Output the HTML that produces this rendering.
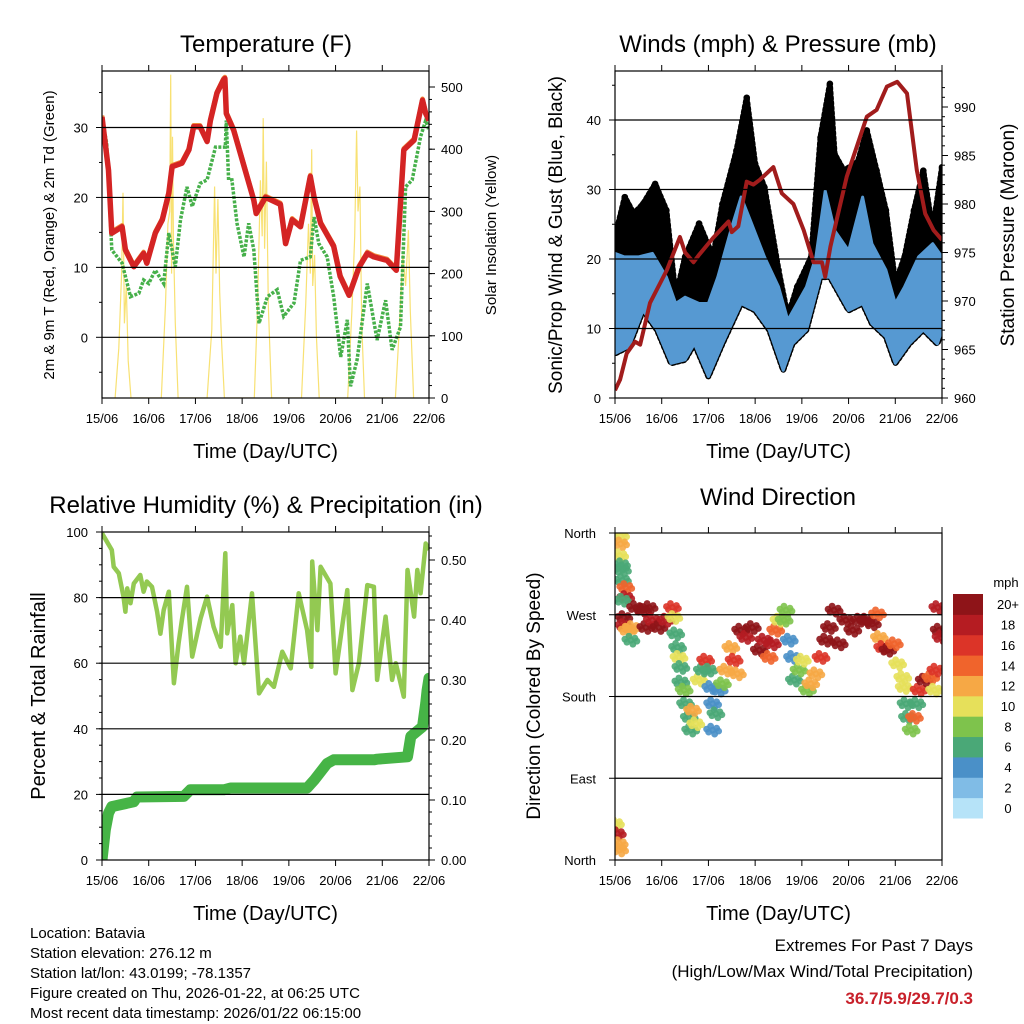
<!DOCTYPE html>
<html><head><meta charset="utf-8"><style>
html,body{margin:0;padding:0;background:#fff;}
svg{display:block;font-family:"Liberation Sans",Arial,sans-serif;}
</style></head><body>
<svg id="chart" width="1024" height="1024" viewBox="0 0 1024 1024" xmlns="http://www.w3.org/2000/svg">
<rect width="1024" height="1024" fill="#fff"/>
<text x="266" y="52" font-size="24" text-anchor="middle">Temperature (F)</text>
<text x="778" y="52" font-size="24" text-anchor="middle">Winds (mph) &amp; Pressure (mb)</text>
<text x="266" y="513" font-size="24" text-anchor="middle">Relative Humidity (%) &amp; Precipitation (in)</text>
<text x="778" y="505" font-size="24" text-anchor="middle">Wind Direction</text>
<text transform="translate(54,235) rotate(-90)" font-size="15" text-anchor="middle">2m &amp; 9m T (Red, Orange) &amp; 2m Td (Green)</text>
<text transform="translate(496,235) rotate(-90)" font-size="15" text-anchor="middle">Solar Insolation (Yellow)</text>
<text transform="translate(562,235) rotate(-90)" font-size="19" text-anchor="middle">Sonic/Prop Wind &amp; Gust (Blue, Black)</text>
<text transform="translate(1014,235) rotate(-90)" font-size="19" text-anchor="middle">Station Pressure (Maroon)</text>
<text transform="translate(45,696) rotate(-90)" font-size="20" text-anchor="middle">Percent &amp; Total Rainfall</text>
<text transform="translate(540,696) rotate(-90)" font-size="19" text-anchor="middle">Direction (Colored By Speed)</text>
<g font-size="15">
<text x="30" y="938">Location: Batavia</text>
<text x="30" y="958">Station elevation: 276.12 m</text>
<text x="30" y="978">Station lat/lon: 43.0199; -78.1357</text>
<text x="30" y="998">Figure created on Thu, 2026-01-22, at 06:25 UTC</text>
<text x="30" y="1018">Most recent data timestamp: 2026/01/22 06:15:00</text>
</g>
<text x="973" y="951" font-size="17" text-anchor="end">Extremes For Past 7 Days</text>
<text x="973" y="977" font-size="17" text-anchor="end">(High/Low/Max Wind/Total Precipitation)</text>
<text x="973" y="1004" font-size="17" font-weight="bold" fill="#c8202a" text-anchor="end">36.7/5.9/29.7/0.3</text>
</svg>
<script>
// ---------- data ----------
const dayLabels = ["15/06","16/06","17/06","18/06","19/06","20/06","21/06","22/06"];
const tempT = [0,0.14,0.21,0.43,0.5,0.68,0.89,0.96,1.14,1.29,1.43,1.5,1.71,1.86,1.96,2.1,2.25,2.32,2.46,2.6,2.63,2.66,2.82,3.25,3.3,3.5,3.82,3.93,4.07,4.25,4.46,4.54,4.68,4.96,5.1,5.29,5.5,5.68,5.82,6.1,6.3,6.46,6.68,6.86,6.93,7];
const tempV = [31.5,23.9,14.9,15.8,12.5,10.1,12,10.6,14.9,16.8,20.6,24.4,24.9,26.8,30.1,30.1,28,31,34.9,36.8,37,32,29.6,19.6,17.7,20,19,13.4,16.8,15.8,23,20,16.3,13,8.7,6,10,12,11.5,11,9.6,26.8,28.2,33.9,32,31];
const dewT = [0,0.1,0.21,0.43,0.61,0.79,0.89,1,1.14,1.32,1.43,1.57,1.68,1.82,1.93,2.1,2.25,2.43,2.64,2.66,2.71,2.78,2.89,3.04,3.14,3.25,3.36,3.54,3.75,3.89,4.11,4.25,4.46,4.54,4.64,4.82,4.96,5.11,5.25,5.32,5.46,5.68,5.89,6.07,6.21,6.39,6.5,6.64,6.82,6.93,7];
const dewV = [31.5,27.7,12.5,10.6,5.8,6.3,8.2,7.7,9.6,7.7,14.9,10.1,16.8,21.5,18.7,22,22.5,27.2,27.2,31,22.5,22.5,16.3,11.5,16.3,12.5,2,5.8,6.8,3,4.9,11,11.5,17.2,13.4,11.5,5.8,-2.8,2.5,-7,-3.2,7.7,-0.4,5.3,-1.8,1.5,21.5,22.5,28.7,31,29.6];
const solarT = [0.28,0.36,0.42,0.45,0.48,0.52,0.56,0.62, 1.27,1.36,1.41,1.45,1.47,1.49,1.51,1.53,1.57,1.63, 2.25,2.35,2.41,2.44,2.48,2.52,2.56,2.62, 3.26,3.33,3.39,3.43,3.45,3.48,3.52,3.56,3.63, 4.27,4.36,4.42,4.46,4.49,4.51,4.55,4.59,4.65, 5.26,5.35,5.41,5.45,5.48,5.52,5.56,5.62, 6.28,6.37,6.44,6.5,6.56,6.6,6.67];
const solarV = [0,80,200,330,120,180,60,0, 0,150,280,300,520,200,420,250,120,0, 0,110,340,200,320,170,90,0, 0,150,350,260,450,240,380,150,0, 0,150,280,200,400,180,230,100,0, 0,140,260,430,300,340,120,0, 0,120,230,180,270,140,0];
const windHiT = [0,0.2,0.5,0.8,1.1,1.3,1.5,1.8,2.0,2.2,2.5,2.7,2.9,3.2,3.5,3.7,3.9,4.1,4.3,4.5,4.7,5.0,5.3,5.5,5.8,6.0,6.2,6.5,6.8,7];
const windHiV = [20.8,20.3,20.3,20.8,17.4,13.6,14.5,13.6,13.6,17.4,24.6,28.9,25.5,20.3,16,11.2,13.6,16,20.3,29.8,24.1,21.2,28.9,22.2,18.4,13.6,16,20.3,22.2,20.3];
const windLoT = [0,0.3,0.6,0.9,1.2,1.5,1.7,2.0,2.3,2.7,3.0,3.3,3.6,3.8,4.1,4.4,4.6,5.0,5.3,5.5,5.8,6.0,6.3,6.6,6.9,7];
const windLoV = [6.4,7.4,12.6,9.8,5,5.5,7.8,3.1,7.8,13.6,12.6,9.8,4,7.8,9.8,17.4,17.4,12.6,13.6,10.7,8.8,5,7.8,9.8,7.8,9.8];
const gustT = [0,0.21,0.4,0.6,0.86,1.1,1.3,1.5,1.8,2.1,2.3,2.6,2.82,3.0,3.2,3.5,3.7,3.9,4.2,4.4,4.6,4.7,4.9,5.2,5.39,5.6,5.8,6.0,6.2,6.4,6.6,6.8,7];
const gustV = [23.1,28.9,26.5,27.9,30.8,27,14.5,20.3,25.1,20.3,27.9,35.6,43.2,33.7,30.3,18.4,11.7,16,20.3,37.5,45.2,35.1,32.7,34,38.5,32.7,27,16.5,20.3,27,32.7,24.1,33.2];
const presT = [0,0.11,0.25,0.43,0.54,0.75,1.11,1.39,1.5,1.68,1.79,2.1,2.43,2.5,2.64,2.82,2.96,3.1,3.39,3.57,3.82,4.04,4.25,4.43,4.5,4.61,4.96,5.39,5.6,5.82,6.04,6.25,6.46,6.64,6.82,7];
const presV = [960.8,961.9,964.6,965.8,965.5,969.8,973.2,976.6,975,974,974.7,976.5,978.2,977.1,977.7,982.3,982,982.5,983.8,981.1,980,977.3,974,974,972.5,975.6,982.8,989,989.7,992.1,992.6,991.4,983.5,979,977.3,976.3];
const rhT = [0,0.21,0.25,0.36,0.46,0.5,0.54,0.61,0.68,0.82,0.89,0.96,1.07,1.18,1.25,1.32,1.43,1.54,1.64,1.71,1.82,1.93,2.11,2.25,2.39,2.54,2.64,2.68,2.79,2.86,2.96,3.04,3.21,3.36,3.54,3.68,3.86,4.04,4.21,4.39,4.48,4.5,4.61,4.68,4.89,5,5.25,5.36,5.5,5.68,5.82,5.89,6.07,6.21,6.29,6.46,6.54,6.68,6.75,6.82,6.93,7];
const rhV = [99.6,94.5,89.4,87.4,80.3,75.7,82.8,78.3,84.3,86.9,81.8,84.9,83.3,75.7,69,76.2,81.8,53.9,66.1,73.2,83.3,62,73.7,80.3,71.1,65,93.5,69.1,77.7,60,68.1,60,81.3,50.8,54.9,52.8,63.5,58.4,81.3,70.1,58.9,91,70.1,89.4,84.3,56.9,82.3,51.8,60,83.8,83.3,54.9,74.2,54.9,60,49.8,88.4,74.2,88.4,81.3,96.5,94.5];
const rainT = [0,0.07,0.14,0.21,0.68,0.75,1.75,1.89,2.61,2.75,4.39,4.54,4.82,4.96,5.82,5.89,6.54,6.61,6.86,6.93,6.96,7];
const rainV = [0,0.05,0.078,0.089,0.097,0.105,0.106,0.117,0.117,0.12,0.12,0.133,0.161,0.167,0.167,0.168,0.172,0.206,0.222,0.261,0.283,0.303];
const dirT = [0.12,0.12,0.10,0.14,0.16,0.16,0.23,0.23,0.16,0.19,0.19,0.26,0.34,0.37,0.44,0.59,0.73,0.66,0.8,0.94,1.09,1.23,1.26,1.3,1.34,1.37,1.41,1.41,1.48,1.51,1.59,1.62,1.66,1.73,1.8,1.87,1.94,2.01,2.05,2.09,2.09,2.16,2.23,2.3,2.37,2.48,2.55,2.62,2.69,2.8,2.94,3.09,3.19,3.3,3.37,3.44,3.51,3.62,3.66,3.73,3.8,3.84,3.94,4.01,4.12,4.19,4.3,4.41,4.51,4.59,4.69,4.8,4.94,5.09,5.23,5.37,5.51,5.62,5.66,5.73,5.84,5.98,6.05,6.16,6.19,6.23,6.26,6.34,6.41,6.46,6.51,6.62,6.76,6.84,6.87,6.94,6.91,6.98,0.01,0.05,0.09,0.10];
const dirV = [357,348,335,325,319,308,300,289,286,267,258,253,242,256,278,275,278,256,264,256,264,278,267,249,234,223,212,196,187,172,157,143,165,150,198,209,220,209,190,172,143,161,187,194,209,234,220,205,253,245,256,231,242,223,238,253,264,264,275,242,223,198,209,220,187,194,205,223,242,256,275,238,264,253,264,264,260,271,245,234,231,238,216,201,190,172,157,143,157,172,187,198,201,187,209,253,278,245,40,29,18,11];
const dirSpd = [10,12,10,7,7,7,14,18,6,20,18,12,7,12,20,20,20,20,18,20,18,16,10,7,7,10,6,6,9,7,7,6,12,10,10,7,17,6,4,5,4,6,4,9,12,13,16,12,20,18,20,20,18,14,18,14,10,8,8,5,5,7,8,10,8,12,13,17,20,20,20,20,20,20,20,20,20,14,12,17,20,14,10,10,10,7,7,8,14,7,16,20,14,10,16,20,18,18,10,18,12,12];
const speedLevels = ["0","2","4","6","8","10","12","14","16","18","20+"];
// ---------- helpers ----------
const NS = "http://www.w3.org/2000/svg";
const svg = document.getElementById("chart");
function mk(tag, attrs, parent){const e=document.createElementNS(NS,tag);for(const k in attrs)e.setAttribute(k,attrs[k]);(parent||svg).appendChild(e);return e;}
function scale(d0,d1,r0,r1){return v=>r0+(v-d0)/(d1-d0)*(r1-r0);}
const speedColors = ["#b6e3f8","#80bce6","#4a90c8","#4aa877","#7ec34c","#e6e05a","#f6a845","#f0642c","#dc3428","#b51c22","#8e1418"];
function spdColor(s){let i=Math.min(10,Math.floor(s/2));return speedColors[i];}
function pathOf(ts,vs,xf,yf){return ts.map((t,i)=>(i?"L":"M")+xf(t).toFixed(1)+","+yf(vs[i]).toFixed(1)).join("");}

function frame(p, name, gridVals, yf, leftTicks, leftMinor, leftFmt, rightTicks, rightMinor, rightFmt, yr){
  const g=mk("g",{});
  
  
  gridVals.forEach(v=>{const l=mk("line",{x1:p.x0,x2:p.x1,y1:yf(v),y2:yf(v),stroke:"#000","stroke-width":1.2},g);
    
    });
  const xf=scale(0,7,p.x0,p.x1);
  for(let d=0;d<=7;d++){const x=xf(d);
    mk("line",{x1:x,x2:x,y1:p.y1,y2:p.y1+6,stroke:"#000"},g);
    mk("line",{x1:x,x2:x,y1:p.y0,y2:p.y0-6,stroke:"#000"},g);
    const t=mk("text",{x:x,y:p.y1+25,"font-size":13,"text-anchor":"middle"},g);t.textContent=dayLabels[d];
    
    
  }
  leftMinor.forEach(v=>mk("line",{x1:p.x0-3,x2:p.x0,y1:yf(v),y2:yf(v),stroke:"#000"},g));
  leftTicks.forEach(v=>{mk("line",{x1:p.x0-6,x2:p.x0,y1:yf(v),y2:yf(v),stroke:"#000"},g);
    const t=mk("text",{x:p.x0-14,y:yf(v)+5,"font-size":13,"text-anchor":"end"},g);t.textContent=leftFmt(v);
    
    });
  if(yr){
    rightMinor.forEach(v=>mk("line",{x1:p.x1,x2:p.x1+3,y1:yr(v),y2:yr(v),stroke:"#000"},g));
    rightTicks.forEach(v=>{mk("line",{x1:p.x1,x2:p.x1+6,y1:yr(v),y2:yr(v),stroke:"#000"},g);
      const t=mk("text",{x:p.x1+12,y:yr(v)+5,"font-size":13},g);t.textContent=rightFmt(v);
      
      });
  }
  const b=mk("rect",{x:p.x0,y:p.y0,width:p.x1-p.x0,height:p.y1-p.y0,fill:"none",stroke:"#000","stroke-width":1.2},g);
  
  
  const xt=mk("text",{x:(p.x0+p.x1)/2,y:p.y1+60,"font-size":20,"text-anchor":"middle"},g);
  xt.textContent="Time (Day/UTC)";
  
  
  return xf;
}
function clip(id,p){const d=mk("defs",{});const c=mk("clipPath",{id:id},d);mk("rect",{x:p.x0,y:p.y0,width:p.x1-p.x0,height:p.y1-p.y0},c);}
function range(a,b,s){const r=[];for(let v=a;v<=b+1e-9;v+=s)r.push(+v.toFixed(4));return r;}

// ---------- Panel 1: temperature ----------
{
const p={x0:102,x1:429,y0:71,y1:398};
const yf=scale(0,30,337.3,127.5), yr=scale(0,500,398,87);
clip("c1",p);
const g=mk("g",{"clip-path":"url(#c1)"});


const xf=scale(0,7,p.x0,p.x1);
const sol=mk("path",{d:pathOf(solarT,solarV,xf,yr),fill:"none",stroke:"#f7dc5a","stroke-width":1.2,opacity:0.85},g);


const dew=mk("path",{d:pathOf(dewT,dewV,xf,yf),fill:"none",stroke:"#46b04a","stroke-width":3.5,"stroke-dasharray":"3 1.5"},g);


const t9=mk("path",{d:pathOf(tempT,tempV,xf,v=>yf(v)-1.5),fill:"none",stroke:"#f08a3a","stroke-width":4.5,"stroke-linejoin":"round"},g);


const t2=mk("path",{d:pathOf(tempT,tempV,xf,yf),fill:"none",stroke:"#d42424","stroke-width":5.5,"stroke-linejoin":"round"},g);


frame(p,"temperature",[0,10,20,30],yf,[0,10,20,30],[-5,5,15,25,35],v=>v,[0,100,200,300,400,500],range(20,500,20),v=>v,yr);
}
// ---------- Panel 2: winds ----------
{
const p={x0:615,x1:942,y0:71,y1:398};
const yf=scale(0,40,398,120), yr=scale(960,990,398,107);
clip("c2",p);
const g=mk("g",{"clip-path":"url(#c2)"});


const xf=scale(0,7,p.x0,p.x1);
const lowRev=windLoT.map((t,i)=>"L"+xf(t).toFixed(1)+","+yf(windLoV[i]).toFixed(1)).reverse().join("");
const gust=mk("path",{d:pathOf(gustT,gustV,xf,yf)+lowRev+"Z",fill:"#000",stroke:"#000","stroke-width":6,"stroke-linejoin":"round","stroke-dasharray":"2 3","stroke-linecap":"round"},g);


gustT.forEach((t,i)=>{const c=mk("circle",{cx:xf(t),cy:yf(gustV[i]),r:3.3,fill:"#000"},g);
  
  });
const wind=mk("path",{d:pathOf(windHiT,windHiV,xf,yf)+lowRev+"Z",fill:"#5699d2",stroke:"#5699d2","stroke-width":3,"stroke-linejoin":"round"},g);


const pr=mk("path",{d:pathOf(presT,presV,xf,yr),fill:"none",stroke:"#a11c1c","stroke-width":4,"stroke-linejoin":"round"},g);


frame(p,"winds",[10,20,30,40],yf,[0,10,20,30,40],[5,15,25,35,45],v=>v,[960,965,970,975,980,985,990],range(961,992,1),v=>v,yr);
}
// ---------- Panel 3: humidity ----------
{
const p={x0:102,x1:429,y0:532,y1:860};
const yf=scale(0,100,860,532), yr=scale(0,0.5,860,560);
clip("c3",p);
const g=mk("g",{"clip-path":"url(#c3)"});


const xf=scale(0,7,p.x0,p.x1);
const rain=mk("path",{d:pathOf(rainT,rainV,xf,yr),fill:"none",stroke:"#46b446","stroke-width":11,"stroke-linejoin":"round","stroke-linecap":"round"},g);


const rh=mk("path",{d:pathOf(rhT,rhV,xf,yf),fill:"none",stroke:"#93c952","stroke-width":4.5,"stroke-linejoin":"round"},g);


frame(p,"humidity",[20,40,60,80],yf,[0,20,40,60,80,100],range(5,95,5),v=>v,[0,0.1,0.2,0.3,0.4,0.5],range(0.02,0.54,0.02),v=>v.toFixed(2),yr);
}
// ---------- Panel 4: wind direction ----------
{
const p={x0:615,x1:942,y0:533,y1:860};
const yf=scale(0,360,860,533);
clip("c4",p);
const g=mk("g",{"clip-path":"url(#c4)"});


const xf=scale(0,7,p.x0,p.x1);
const offs=[[0,0],[-4,2],[4,-2],[2,4],[-2,-4],[6,1],[-6,-1]];
dirT.forEach((t,i)=>{
  offs.forEach(o=>{const c=mk("circle",{cx:xf(t)+o[0],cy:yf(dirV[i])+o[1],r:3.4,fill:spdColor(dirSpd[i]),opacity:0.9},g);
    
    });
});
const names=["North","East","South","West","North"];
frame(p,"direction",[90,180,270],yf,[],[],v=>v,[],[],v=>v,null);
[0,90,180,270,360].forEach((v,i)=>{
  mk("line",{x1:p.x0-6,x2:p.x0,y1:yf(v),y2:yf(v),stroke:"#000"});
  const t=mk("text",{x:p.x0-19,y:yf(v)+5,"font-size":13,"text-anchor":"end"});t.textContent=names[i];
  
  
});
// colorbar
const cb=mk("g",{});


const bh=224/11;
speedLevels.forEach((lab,i)=>{
  const row=10-i;
  const r=mk("rect",{x:953,y:594+row*bh,width:30,height:bh+0.5,fill:speedColors[i]},cb);
  
  
  const t=mk("text",{x:1008,y:594+row*bh+bh/2+5,"font-size":13,"text-anchor":"middle"},cb);t.textContent=lab;
  
  
});
const u=mk("text",{x:1006,y:587,"font-size":13,"text-anchor":"middle"},cb);u.textContent="mph";


}
</script>
</body></html>
